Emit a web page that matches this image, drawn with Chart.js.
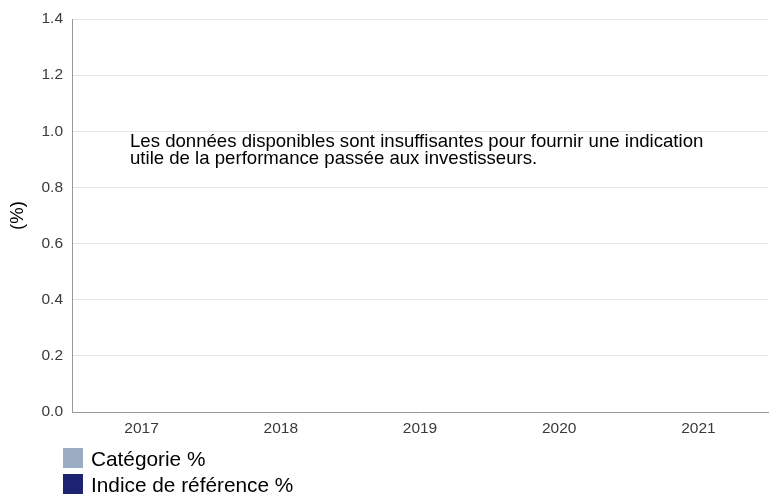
<!DOCTYPE html>
<html><head><meta charset="utf-8">
<script src="https://cdn.jsdelivr.net/npm/chart.js@4"></script>
<style>html,body{margin:0;padding:0;background:#fff}#w{width:769px;height:495px;position:relative}</style>
</head><body><div id="w"><canvas id="c"></canvas></div>
<script>
const categories = ['2017','2018','2019','2020','2021'];
const categorieValues = [null,null,null,null,null];
const indiceValues = [null,null,null,null,null];
const seriesLabels = ['Catégorie %','Indice de référence %'];
const seriesColors = ['#9aadc3','#1d2372'];
const yTicks = [0,0.2,0.4,0.6,0.8,1.0,1.2,1.4];
const message = ['Les données disponibles sont insuffisantes pour fournir une indication','utile de la performance passée aux investisseurs.'];

const FONT = "'Liberation Sans', Arial, sans-serif";

const overlay = {
  id:'overlay',
  afterDraw(chart){
    const ctx = chart.ctx, a = chart.chartArea;
    ctx.save();
    ctx.fillStyle = '#000';
    ctx.font = '18.6px ' + FONT;
    ctx.textBaseline = 'alphabetic';
    ctx.textAlign = 'left';
    message.forEach((t,i)=>ctx.fillText(t, a.left + 58, 147 + i*17));
    // legend
    ctx.font = '20.8px ' + FONT;
    chart.data.datasets.forEach((ds,i)=>{
      const y = 448 + i*26;
      ctx.fillStyle = ds.backgroundColor;
      ctx.fillRect(63, y, 20, 20);
      ctx.fillStyle = '#000';
      ctx.fillText(ds.label, 91, y + 18);
    });
    ctx.restore();
  }
};

new Chart(document.getElementById('c'), {
  type:'bar',
  data:{
    labels: categories,
    datasets:[
      {label: seriesLabels[0], data: categorieValues, backgroundColor: seriesColors[0]},
      {label: seriesLabels[1], data: indiceValues, backgroundColor: seriesColors[1]}
    ]
  },
  options:{
    responsive:true, maintainAspectRatio:false, animation:false,
    layout:{padding:{top:19,right:1,left:0,bottom:0}},
    plugins:{legend:{display:false}, tooltip:{enabled:false}},
    scales:{
      x:{
        grid:{display:false, drawTicks:false},
        border:{color:'#9a9a9a', width:1},
        ticks:{color:'#3a3a3a', font:{family:FONT,size:15.5}, padding:7},
        afterFit(s){ s.height = 83; }
      },
      y:{
        min:0, max:1.4,
        afterBuildTicks(s){ s.ticks = yTicks.map(v=>({value:v})); },
        grid:{color:'#e6e6e6', drawTicks:false},
        border:{color:'#9a9a9a', width:1},
        ticks:{color:'#3a3a3a', font:{family:FONT,size:15.5}, padding:9, callback:v=>Number(v).toFixed(1)},
        title:{display:true, text:'(%)', color:'#000', font:{family:FONT,size:18.5}, padding:{top:7,bottom:0}},
        afterFit(s){ s.width = 72; }
      }
    }
  },
  plugins:[overlay]
});
</script>
</body></html>
